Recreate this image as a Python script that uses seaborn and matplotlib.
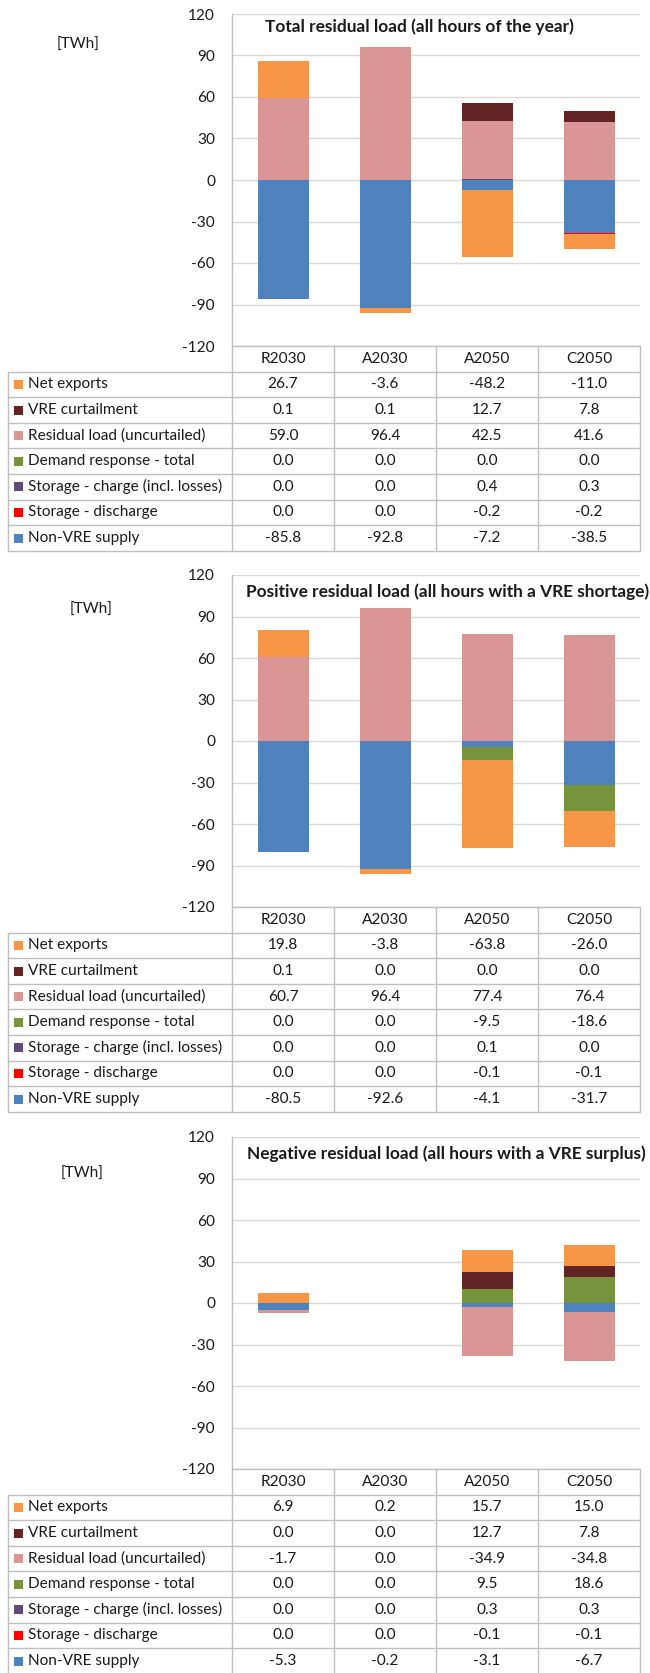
import numpy as np
import matplotlib
matplotlib.use("Agg")
import matplotlib.pyplot as plt
from matplotlib.lines import Line2D
from matplotlib.patches import Rectangle
import seaborn as sns

# ---------------------------------------------------------------- data
scenarios = ["R2030", "A2030", "A2050", "C2050"]

series_names = [
    "Net exports",
    "VRE curtailment",
    "Residual load (uncurtailed)",
    "Demand response - total",
    "Storage - charge (incl. losses)",
    "Storage - discharge",
    "Non-VRE supply",
]
series_colors = ["#F79646", "#632523", "#D99694", "#77933C",
                 "#604A7B", "#FF0000", "#4F81BD"]

y_ticks = [-120, -90, -60, -30, 0, 30, 60, 90, 120]

panel_titles = [
    "Total residual load (all hours of the year)",
    "Positive residual load (all hours with a VRE shortage)",
    "Negative residual load (all hours with a VRE surplus)",
]

# Total residual load [TWh]
total_net_exports = [26.7, -3.6, -48.2, -11.0]
total_vre_curtailment = [0.1, 0.1, 12.7, 7.8]
total_residual_load = [59.0, 96.4, 42.5, 41.6]
total_demand_response = [0.0, 0.0, 0.0, 0.0]
total_storage_charge = [0.0, 0.0, 0.4, 0.3]
total_storage_discharge = [0.0, 0.0, -0.2, -0.2]
total_non_vre_supply = [-85.8, -92.8, -7.2, -38.5]

# Positive residual load [TWh]
pos_net_exports = [19.8, -3.8, -63.8, -26.0]
pos_vre_curtailment = [0.1, 0.0, 0.0, 0.0]
pos_residual_load = [60.7, 96.4, 77.4, 76.4]
pos_demand_response = [0.0, 0.0, -9.5, -18.6]
pos_storage_charge = [0.0, 0.0, 0.1, 0.0]
pos_storage_discharge = [0.0, 0.0, -0.1, -0.1]
pos_non_vre_supply = [-80.5, -92.6, -4.1, -31.7]

# Negative residual load [TWh]
neg_net_exports = [6.9, 0.2, 15.7, 15.0]
neg_vre_curtailment = [0.0, 0.0, 12.7, 7.8]
neg_residual_load = [-1.7, 0.0, -34.9, -34.8]
neg_demand_response = [0.0, 0.0, 9.5, 18.6]
neg_storage_charge = [0.0, 0.0, 0.3, 0.3]
neg_storage_discharge = [0.0, 0.0, -0.1, -0.1]
neg_non_vre_supply = [-5.3, -0.2, -3.1, -6.7]

panels = [
    [total_net_exports, total_vre_curtailment, total_residual_load,
     total_demand_response, total_storage_charge, total_storage_discharge,
     total_non_vre_supply],
    [pos_net_exports, pos_vre_curtailment, pos_residual_load,
     pos_demand_response, pos_storage_charge, pos_storage_discharge,
     pos_non_vre_supply],
    [neg_net_exports, neg_vre_curtailment, neg_residual_load,
     neg_demand_response, neg_storage_charge, neg_storage_discharge,
     neg_non_vre_supply],
]

# ---------------------------------------------------------------- layout (pixels)
W, H = 650, 1673
sns.set_theme(style="white")
plt.rcParams["font.family"] = ["Lato", "DejaVu Sans"]

fig = plt.figure(figsize=(W / 100, H / 100), dpi=100)
fig.patch.set_facecolor("white")
renderer = fig.canvas.get_renderer()


def fit_size(text, target_px, weight="normal"):
    """Font size (pt) at which `text` is `target_px` pixels wide."""
    t = fig.text(0, 0, text, fontsize=10, fontweight=weight)
    width = t.get_window_extent(renderer).width
    t.remove()
    return 10 * target_px / width


fs = fit_size("Storage - discharge", 130)
fs_title = fit_size(panel_titles[0], 309, weight="bold")

plot_left, plot_right = 232, 640
table_left = 8
plot_h = 332
row_h = 25.6
col_edges = [232, 334, 436, 538, 640]
panel_tops = [14, 575, 1137]
# (x, y, horizontal alignment) of each panel title
title_pos = [(265, 27, "left"), (649, 592, "right"), (646, 1154, "right")]
unit_pos = [(57, 45), (70, 610), (61, 1174)]

grid_col = "#D9D9D9"
line_col = "#BFBFBF"
text_col = "#1A1A1A"


def fx(px):
    return px / W


def fy(py):
    return 1 - py / H


def hline(x0, x1, y):
    fig.add_artist(Line2D([fx(x0), fx(x1)], [fy(y), fy(y)],
                          transform=fig.transFigure, color=line_col, lw=1))


def vline(x, y0, y1):
    fig.add_artist(Line2D([fx(x), fx(x)], [fy(y0), fy(y1)],
                          transform=fig.transFigure, color=line_col, lw=1))


for p, values in enumerate(panels):
    top = panel_tops[p]
    bottom_px = top + plot_h
    ax = fig.add_axes([fx(plot_left), fy(bottom_px),
                       (plot_right - plot_left) / W, plot_h / H])

    # stacked bars: positives and negatives stack separately outward from 0,
    # the last table row sits next to the zero line
    pos_base = np.zeros(len(scenarios))
    neg_base = np.zeros(len(scenarios))
    for vals, color in zip(reversed(values), reversed(series_colors)):
        v = np.asarray(vals, dtype=float)
        base = np.where(v >= 0, pos_base, neg_base)
        sns.barplot(x=scenarios, y=v, bottom=base, color=color, width=0.5,
                    saturation=1, errorbar=None, linewidth=0, ax=ax)
        pos_base += np.clip(v, 0, None)
        neg_base += np.clip(v, None, 0)

    ax.set_xlim(-0.5, len(scenarios) - 0.5)
    ax.set_ylim(-120, 120)
    ax.set_yticks(y_ticks)
    ax.set_yticklabels([str(t) for t in y_ticks], fontsize=fs, color=text_col)
    ax.tick_params(axis="y", length=0, pad=12.2)
    ax.set_xticks([])
    ax.set_xlabel("")
    ax.set_ylabel("")
    ax.yaxis.grid(True, color=grid_col, lw=1)
    ax.set_axisbelow(True)
    for side in ["top", "right", "bottom"]:
        ax.spines[side].set_visible(False)
    ax.spines["left"].set_color(line_col)
    ax.spines["left"].set_linewidth(1)
    ax.patch.set_alpha(0)

    tx, ty, tha = title_pos[p]
    fig.text(fx(tx), fy(ty), panel_titles[p], fontsize=fs_title,
             fontweight="bold", color=text_col, ha=tha, va="center")
    ux, uy = unit_pos[p]
    fig.text(fx(ux), fy(uy), "[TWh]", fontsize=fs, color=text_col,
             ha="left", va="center")

    # data table under the plot
    head_top = bottom_px
    head_bot = head_top + row_h
    rows_bot = head_bot + row_h * len(series_names)
    hline(plot_left, plot_right, head_top)
    for c, name in enumerate(scenarios):
        fig.text(fx((col_edges[c] + col_edges[c + 1]) / 2),
                 fy((head_top + head_bot) / 2), name, fontsize=fs,
                 color=text_col, ha="center", va="center")
    for r in range(len(series_names) + 1):
        hline(table_left, plot_right, head_bot + r * row_h)
    vline(table_left, head_bot, rows_bot)
    for x in col_edges:
        vline(x, head_top, rows_bot)
    for r, (name, color, vals) in enumerate(zip(series_names, series_colors, values)):
        yc = head_bot + (r + 0.5) * row_h
        fig.add_artist(Rectangle((fx(14), fy(yc + 4.5)), 9 / W, 9 / H,
                                 transform=fig.transFigure, facecolor=color,
                                 edgecolor="none"))
        fig.text(fx(28), fy(yc), name, fontsize=fs, color=text_col,
                 ha="left", va="center")
        for c, v in enumerate(vals):
            fig.text(fx((col_edges[c] + col_edges[c + 1]) / 2), fy(yc),
                     f"{v:.1f}", fontsize=fs, color=text_col,
                     ha="center", va="center")

fig.savefig("out.png", dpi=100)
